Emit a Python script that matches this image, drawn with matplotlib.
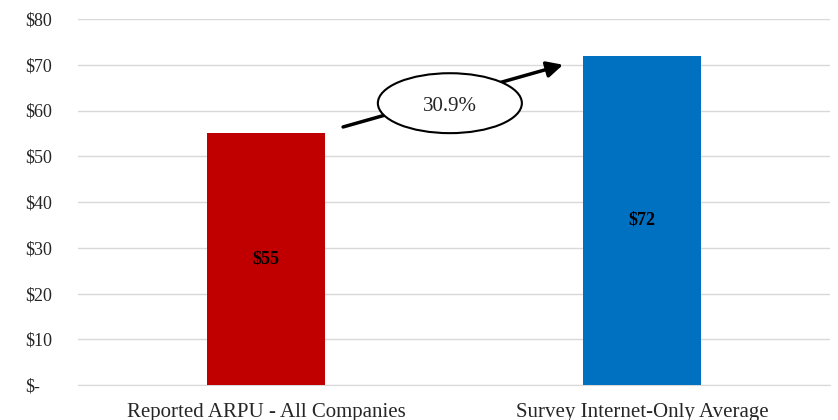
import matplotlib.pyplot as plt
from matplotlib.patches import Ellipse

categories = ['Reported ARPU - All Companies', 'Survey Internet-Only Average']
values = [55, 72]
bar_colors = ['#C00000', '#0070C0']
bar_labels = ['$55', '$72']
yticks = [0, 10, 20, 30, 40, 50, 60, 70, 80]
ytick_labels = ['$-', '$10', '$20', '$30', '$40', '$50', '$60', '$70', '$80']
change_label = '30.9%'

plt.rcParams['font.family'] = ['Liberation Serif', 'DejaVu Serif']

fig = plt.figure(figsize=(8.38, 4.2), dpi=100)
ax = fig.add_axes([78 / 838, 1 - 385 / 420, 752 / 838, 366 / 420])

x = list(range(len(categories)))
ax.bar(x, values, width=0.314, color=bar_colors, zorder=3)
for xi, v, lab in zip(x, values, bar_labels):
    ax.text(xi, v / 2, lab, ha='center', va='center', fontsize=13,
            fontweight='bold', color='black', zorder=4)

ax.set_xlim(-0.5, 1.5)
ax.set_ylim(0, 80)
ax.set_yticks(yticks)
ax.set_yticklabels(ytick_labels, fontsize=13, color='#262626')
for lbl in ax.get_yticklabels():
    lbl.set_ha('left')
ax.tick_params(axis='y', length=0, pad=38)
ax.set_xticks(x)
ax.set_xticklabels(categories, fontsize=15, color='#262626')
ax.tick_params(axis='x', length=0, pad=13)

ax.grid(axis='y', color='#D9D9D9', linewidth=1, zorder=0)
for s in ['top', 'right', 'left']:
    ax.spines[s].set_visible(False)
ax.spines['bottom'].set_color('#D9D9D9')

# growth arrow with ellipse callout
ax.annotate('', xy=(0.79, 70.0), xytext=(0.205, 56.4),
            arrowprops=dict(arrowstyle='-|>', color='black', lw=2.5,
                            mutation_scale=24, shrinkA=0, shrinkB=0), zorder=5)
ax.add_patch(Ellipse((0.489, 61.6), 0.383, 13.1, facecolor='white',
                     edgecolor='black', lw=1.5, zorder=6))
ax.text(0.489, 60.8, change_label, ha='center', va='center', fontsize=15,
        color='#262626', zorder=7)

fig.savefig('out.png', dpi=100)
